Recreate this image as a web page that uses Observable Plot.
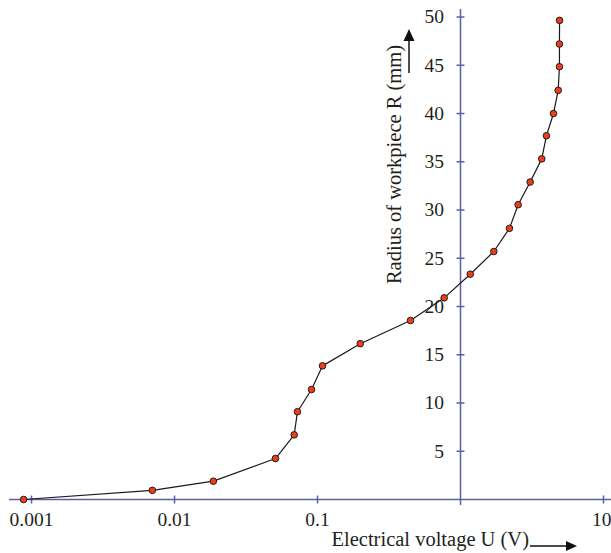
<!DOCTYPE html>
<html><head><meta charset="utf-8">
<script src="https://cdn.jsdelivr.net/npm/d3@7"></script>
<script src="https://cdn.jsdelivr.net/npm/@observablehq/plot@0.6"></script>
<style>body{margin:0;background:#fff;}</style>
</head><body><div id="chart"></div>
<script>
const voltage = [0.00088, 0.0070, 0.0187, 0.0508, 0.0687, 0.0724, 0.0908, 0.1084, 0.199, 0.447, 0.769, 1.17, 1.71, 2.20, 2.53, 3.07, 3.70, 3.99, 4.47, 4.82, 4.92, 4.92, 4.93];
const radius  = [0, 0.95, 1.9, 4.25, 6.7, 9.1, 11.4, 13.85, 16.15, 18.55, 20.9, 23.35, 25.7, 28.1, 30.55, 32.9, 35.3, 37.7, 40.0, 42.4, 44.85, 47.2, 49.65];
const xTicks = [0.001, 0.01, 0.1, 10];
const xTickLabels = ["0.001", "0.01", "0.1", "10"];
const yTicks = [5, 10, 15, 20, 25, 30, 35, 40, 45, 50];
const xTitle = "Electrical voltage U (V)";
const yTitle = "Radius of workpiece R (mm)";

const data = voltage.map((u, i) => ({u, r: radius[i]}));
const xLabelData = xTicks.map((t, i) => ({t, label: xTickLabels[i]}));
const axisColor = "#5b5fab";
const textColor = "#231f20";
const tickV = {draw(ctx, size) { const h = Math.sqrt(size / Math.PI); ctx.moveTo(0, -h); ctx.lineTo(0, h); }};
const tickH = {draw(ctx, size) { const h = Math.sqrt(size / Math.PI); ctx.moveTo(-h, 0); ctx.lineTo(h, 0); }};

const plot = Plot.plot({
  width: 611, height: 553,
  marginLeft: 9, marginRight: 0, marginTop: 9, marginBottom: 48,
  style: {fontFamily: "'Liberation Serif', serif", color: textColor, background: "#fff"},
  x: {type: "log", domain: [10 ** -3.154, 10 ** 1.056], axis: null},
  y: {domain: [-0.62, 50.78], axis: null},
  marks: [
    Plot.ruleY([0], {stroke: axisColor, strokeWidth: 1.5}),
    Plot.ruleX([1], {stroke: axisColor, strokeWidth: 1.5}),
    Plot.dot(xTicks, {x: d => d, y: 0, symbol: tickV, r: 4, fill: "none", stroke: axisColor, strokeWidth: 1.5}),
    Plot.dot(yTicks, {x: 1, y: d => d, symbol: tickH, r: 4, fill: "none", stroke: axisColor, strokeWidth: 1.5}),
    Plot.text(xLabelData.slice(0, 3), {x: "t", y: 0, text: "label", dy: 20, fontSize: 19.5, fill: textColor}),
    Plot.text(xLabelData.slice(3), {x: "t", y: 0, text: "label", dy: 20, dx: 8, textAnchor: "end", fontSize: 19.5, fill: textColor}),
    Plot.text(yTicks, {x: 1, y: d => d, text: d => String(d), dx: -16.5, textAnchor: "end", fontSize: 19.5, fill: textColor}),
    Plot.line(data, {x: "u", y: "r", stroke: "#1a1a1a", strokeWidth: 1.2}),
    Plot.dot(data, {x: "u", y: "r", r: 3.3, fill: "#e8401c", stroke: "#2a1a14", strokeWidth: 1}),
    Plot.text([xTitle], {text: d => d, frameAnchor: "bottom", textAnchor: "start", lineAnchor: "middle", dx: 21, dy: 33.5, fontSize: 20.5, fill: textColor}),
    Plot.text([yTitle], {text: d => d, frameAnchor: "top-left", rotate: -90, textAnchor: "middle", lineAnchor: "middle", dx: 385, dy: 155, fontSize: 20.5, fill: textColor})
  ]
});
document.getElementById("chart").appendChild(plot);

// decorative direction arrows next to the axis titles
const svg = d3.select(plot);
svg.append("line").attr("x1", 530).attr("y1", 546).attr("x2", 567).attr("y2", 546).attr("stroke", "#111").attr("stroke-width", 1.5);
svg.append("path").attr("d", "M566,541L577,546L566,551Z").attr("fill", "#111");
svg.append("line").attr("x1", 409).attr("y1", 73).attr("x2", 409).attr("y2", 40).attr("stroke", "#111").attr("stroke-width", 1.5);
svg.append("path").attr("d", "M403.5,41L409,29L414.5,41Z").attr("fill", "#111");
</script>
</body></html>
